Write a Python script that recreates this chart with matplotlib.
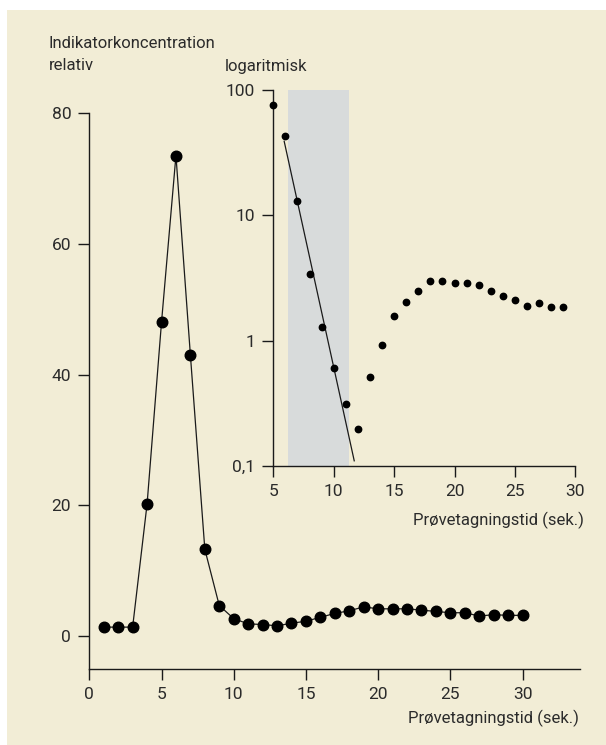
import matplotlib
matplotlib.use("Agg")
import matplotlib.pyplot as plt
from matplotlib.patches import Rectangle
from matplotlib.ticker import FixedLocator, FixedFormatter

# ---- data ----
main_t = list(range(1, 31))
main_conc = [1.4, 1.4, 1.4, 20.2, 48.0, 73.5, 43.0, 13.3, 4.7, 2.7,
             1.9, 1.8, 1.6, 2.0, 2.3, 2.9, 3.5, 3.9, 4.5, 4.2,
             4.2, 4.2, 4.0, 3.8, 3.6, 3.6, 3.1, 3.3, 3.2, 3.2]

log_t = list(range(5, 30))
log_conc = [76, 43, 12.9, 3.4, 1.29, 0.60, 0.31, 0.196, 0.51, 0.93,
            1.57, 2.04, 2.5, 3.0, 2.97, 2.86, 2.88, 2.76, 2.49, 2.27,
            2.11, 1.89, 2.0, 1.87, 1.87]

fit_t = [5.9, 11.7]
fit_conc = [39, 0.11]

band_t = [6.25, 11.25]

main_xticks = [0, 5, 10, 15, 20, 25, 30]
main_yticks = [0, 20, 40, 60, 80]
log_xticks = [5, 10, 15, 20, 25, 30]
log_yticks = [0.1, 1, 10, 100]
log_ytick_labels = ["0,1", "1", "10", "100"]

main_ylabel = ["Indikatorkoncentration", "relativ"]
log_ylabel = "logaritmisk"
xlabel = "Prøvetagningstid (sek.)"

# ---- style ----
W, H = 606, 745
BG = "#F2EDD6"
BAND = "#D8DBDB"
INK = "#1a1a1a"
TXT = "#2b2b2b"
FONT = ["Roboto", "DejaVu Sans"]
FS = 12
TFS = 12.5

plt.rcParams["font.family"] = FONT

fig = plt.figure(figsize=(W / 100, H / 100), dpi=100)
fig.patch.set_facecolor("white")
fig.patches.append(Rectangle((7 / W, 0), 1 - 7 / W, 1 - 10 / H,
                             transform=fig.transFigure, facecolor=BG,
                             edgecolor="none", zorder=-10))


def px_axes(left, top, right, bottom):
    return fig.add_axes([left / W, (H - bottom) / H, (right - left) / W, (bottom - top) / H])


def style(ax):
    ax.set_facecolor("none")
    for s in ("top", "right"):
        ax.spines[s].set_visible(False)
    for s in ("left", "bottom"):
        ax.spines[s].set_color(INK)
        ax.spines[s].set_linewidth(1.0)
    ax.tick_params(direction="out", length=8, width=1.0, color=INK,
                   labelsize=TFS, labelcolor=TXT, pad=5)
    ax.tick_params(which="minor", length=0)


# main axes
ax = px_axes(89.3, 113, 580.3, 669)
style(ax)
ax.plot(main_t, main_conc, color=INK, lw=0.9, marker="o", ms=7.6,
        mfc="black", mec="black", clip_on=False, zorder=3)
ax.set_xlim(0, 34)
ax.set_ylim(-5, 80)
ax.set_xticks(main_xticks)
ax.set_yticks(main_yticks)
ax.spines["left"].set_bounds(-5, 80)

# inset axes
ai = px_axes(273.3, 90, 575.3, 466)
style(ai)
ai.set_yscale("log")
ai.set_xlim(5, 30)
ai.set_ylim(0.1, 100)
ai.axvspan(band_t[0], band_t[1], color=BAND, lw=0, zorder=0)
ai.plot(log_t, log_conc, ls="none", marker="o", ms=4.6, color="black",
        clip_on=False, zorder=3)
ai.plot(fit_t, fit_conc, color=INK, lw=0.9, zorder=2)
ai.set_xticks(log_xticks)
ai.yaxis.set_major_locator(FixedLocator(log_yticks))
ai.yaxis.set_major_formatter(FixedFormatter(log_ytick_labels))
ai.yaxis.set_minor_locator(FixedLocator([]))

# texts
fig.text(49 / W, 1 - 44 / H, main_ylabel[0], ha="left", va="center",
         fontsize=FS, color=TXT)
fig.text(49 / W, 1 - 66 / H, main_ylabel[1], ha="left", va="center",
         fontsize=FS, color=TXT)
fig.text(225 / W, 1 - 67 / H, log_ylabel, ha="left", va="center",
         fontsize=FS, color=TXT)
fig.text(579 / W, 1 - 718 / H, xlabel, ha="right", va="center",
         fontsize=FS, color=TXT)
fig.text(584 / W, 1 - 520 / H, xlabel, ha="right", va="center",
         fontsize=FS, color=TXT)

fig.savefig("out.png", dpi=100, facecolor=fig.get_facecolor())
